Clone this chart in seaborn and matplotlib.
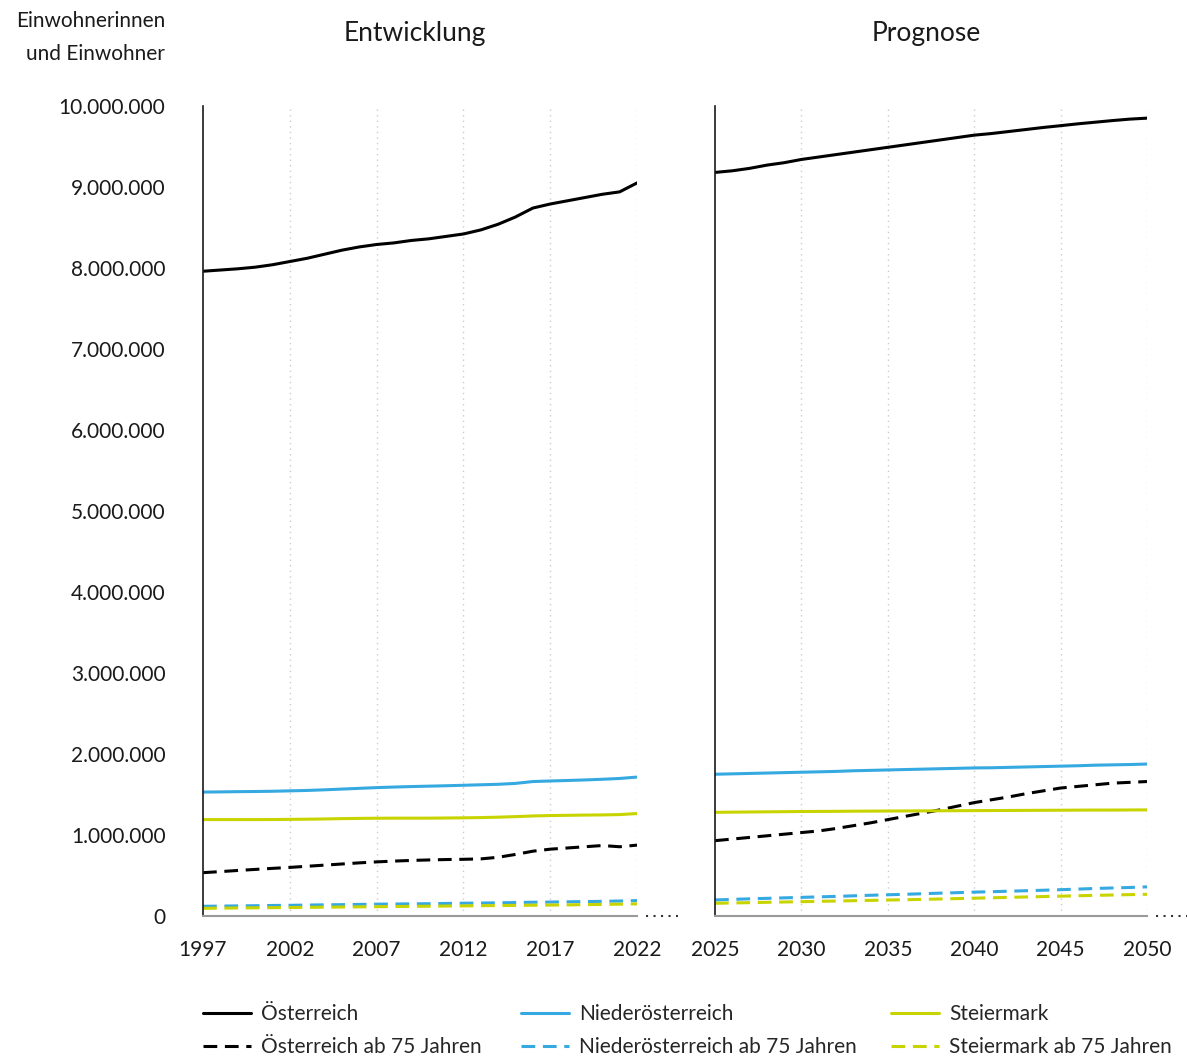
import numpy as np
import pandas as pd
import matplotlib
matplotlib.use("Agg")
import matplotlib.pyplot as plt
from matplotlib.lines import Line2D
import seaborn as sns

# Werte in Mio. Einwohner
jahre_hist = list(range(1997, 2023))
jahre_prog = list(range(2025, 2051))

oe_hist = [7.960, 7.975, 7.990, 8.010, 8.040, 8.080, 8.120, 8.170, 8.220, 8.260, 8.290, 8.310, 8.340,
           8.360, 8.390, 8.420, 8.470, 8.540, 8.630, 8.740, 8.790, 8.830, 8.870, 8.910, 8.940, 9.050]
noe_hist = [1.530, 1.532, 1.535, 1.537, 1.540, 1.545, 1.550, 1.558, 1.567, 1.576, 1.585, 1.592, 1.598,
            1.603, 1.608, 1.614, 1.620, 1.626, 1.637, 1.660, 1.667, 1.673, 1.680, 1.688, 1.698, 1.715]
stmk_hist = [1.190, 1.190, 1.190, 1.190, 1.191, 1.193, 1.195, 1.198, 1.202, 1.205, 1.207, 1.208, 1.208,
             1.208, 1.210, 1.212, 1.215, 1.220, 1.227, 1.235, 1.240, 1.243, 1.246, 1.248, 1.252, 1.265]
oe75_hist = [0.535, 0.548, 0.562, 0.575, 0.588, 0.600, 0.614, 0.628, 0.642, 0.656, 0.668, 0.678, 0.686,
             0.692, 0.697, 0.700, 0.705, 0.725, 0.760, 0.800, 0.825, 0.840, 0.855, 0.870, 0.855, 0.875]
noe75_hist = [0.120, 0.122, 0.125, 0.127, 0.130, 0.132, 0.135, 0.138, 0.140, 0.143, 0.146, 0.148, 0.150,
              0.152, 0.155, 0.158, 0.160, 0.163, 0.166, 0.170, 0.172, 0.175, 0.178, 0.181, 0.185, 0.190]
stmk75_hist = [0.095, 0.097, 0.099, 0.101, 0.103, 0.105, 0.107, 0.109, 0.111, 0.113, 0.115, 0.117, 0.119,
               0.121, 0.123, 0.125, 0.127, 0.129, 0.131, 0.133, 0.135, 0.137, 0.140, 0.143, 0.146, 0.150]

oe_prog = [9.180, 9.200, 9.230, 9.270, 9.300, 9.340, 9.370, 9.400, 9.430, 9.460, 9.490, 9.520, 9.550,
           9.580, 9.610, 9.640, 9.660, 9.685, 9.710, 9.735, 9.757, 9.780, 9.800, 9.820, 9.838, 9.850]
noe_prog = [1.750, 1.755, 1.760, 1.765, 1.770, 1.775, 1.780, 1.785, 1.793, 1.798, 1.803, 1.808, 1.813,
            1.818, 1.823, 1.828, 1.830, 1.835, 1.840, 1.845, 1.850, 1.855, 1.862, 1.866, 1.870, 1.876]
stmk_prog = [1.280, 1.282, 1.284, 1.286, 1.288, 1.290, 1.291, 1.292, 1.294, 1.295, 1.296, 1.297, 1.298,
             1.299, 1.300, 1.301, 1.302, 1.303, 1.304, 1.305, 1.306, 1.307, 1.308, 1.308, 1.309, 1.310]
oe75_prog = [0.930, 0.950, 0.970, 0.990, 1.010, 1.030, 1.050, 1.080, 1.115, 1.150, 1.190, 1.230, 1.270,
             1.310, 1.355, 1.400, 1.435, 1.470, 1.510, 1.545, 1.580, 1.600, 1.620, 1.640, 1.650, 1.660]
noe75_prog = [0.198, 0.205, 0.212, 0.218, 0.224, 0.230, 0.236, 0.242, 0.249, 0.256, 0.262, 0.268, 0.275,
              0.282, 0.288, 0.295, 0.300, 0.306, 0.312, 0.318, 0.325, 0.332, 0.340, 0.346, 0.352, 0.360]
stmk75_prog = [0.157, 0.161, 0.165, 0.169, 0.173, 0.177, 0.181, 0.185, 0.189, 0.193, 0.197, 0.201, 0.205,
               0.210, 0.215, 0.220, 0.225, 0.230, 0.235, 0.240, 0.245, 0.250, 0.255, 0.259, 0.264, 0.268]

namen = ["Österreich", "Österreich ab 75 Jahren",
         "Niederösterreich", "Niederösterreich ab 75 Jahren",
         "Steiermark", "Steiermark ab 75 Jahren"]
hist = [oe_hist, oe75_hist, noe_hist, noe75_hist, stmk_hist, stmk75_hist]
prog = [oe_prog, oe75_prog, noe_prog, noe75_prog, stmk_prog, stmk75_prog]

farben = {"Österreich": "#000000", "Niederösterreich": "#36a9e1", "Steiermark": "#c8d400"}
DASH = (0, (4.5, 2.5))
FS = 15

sns.set_style("white")
plt.rcParams["font.family"] = ["Lato", "DejaVu Sans"]
plt.rcParams["font.size"] = FS

fig = plt.figure(figsize=(11.87, 10.57), dpi=100)
W, H = 1187, 1057
ax1 = fig.add_axes([203 / W, (H - 916) / H, 434 / W, 810 / H])
ax2 = fig.add_axes([715 / W, (H - 916) / H, 432 / W, 810 / H])


def farbe(name):
    return farben[name.replace(" ab 75 Jahren", "")]


for ax, jahre, daten, titel in [(ax1, jahre_hist, hist, "Entwicklung"),
                                (ax2, jahre_prog, prog, "Prognose")]:
    for name, werte in zip(namen, daten):
        df = pd.DataFrame({"Jahr": jahre, "Einwohner": np.array(werte) * 1e6})
        ls = DASH if "ab 75" in name else "-"
        sns.lineplot(data=df, x="Jahr", y="Einwohner", ax=ax, color=farbe(name),
                     linestyle=ls, linewidth=2.2, legend=False)

    ax.set_xlim(jahre[0], jahre[-1])
    ax.set_ylim(0, 10_000_000)
    xt = jahre[::5]
    ax.set_xticks(xt)
    ax.set_xticklabels([str(j) for j in xt], fontsize=FS, color="#1a1a1a")
    ax.set_yticks(np.arange(0, 10_000_001, 1_000_000))
    for x in xt[1:]:
        ax.axvline(x, color="#cccccc", linestyle=(0, (1, 3)), linewidth=1, zorder=0)
    ax.set_xlabel("")
    ax.set_ylabel("")
    ax.set_title(titel, fontsize=19, pad=47, color="#1a1a1a", x=0.488)
    for s in ["top", "right"]:
        ax.spines[s].set_visible(False)
    ax.spines["left"].set_color("#1a1a1a")
    ax.spines["left"].set_linewidth(1.2)
    ax.spines["bottom"].set_color("#9a9a9a")
    ax.spines["bottom"].set_linewidth(1.5)
    ax.tick_params(axis="x", direction="out", length=10, width=1.3, color="#1a1a1a", pad=7)
    ax.tick_params(axis="y", direction="out", length=7, width=1.3, color="#555555")
    ax.yaxis.get_major_ticks()[0].tick1line.set_color("#9a9a9a")
    # gepunktete Fortsetzung der Achse
    ax.plot([1.02, 1.095], [0, 0], transform=ax.transAxes, color="#333333",
            linestyle=(0, (1, 2.6)), linewidth=1.5, clip_on=False)

ax1.set_yticklabels([f"{v:,.0f}".replace(",", ".") for v in ax1.get_yticks()],
                    fontsize=FS, color="#1a1a1a")
ax1.tick_params(axis="y", pad=20)
ax2.set_yticklabels([])
ax2.tick_params(axis="y", color="#888888")

fig.text(165 / W, 1 - 11 / H, "Einwohnerinnen\nund Einwohner", ha="right", va="top",
         fontsize=FS, linespacing=1.8, color="#1a1a1a", transform=fig.transFigure)

# Legende in drei Spalten
for i, xpos in enumerate([203, 521, 891]):
    handles = []
    for name in namen[2 * i:2 * i + 2]:
        ls = DASH if "ab 75" in name else "-"
        handles.append(Line2D([], [], color=farbe(name), linestyle=ls, linewidth=2.2))
    fig.legend(handles, namen[2 * i:2 * i + 2], loc="upper left",
               bbox_to_anchor=(xpos / W, 1 - 1004 / H), frameon=False, fontsize=FS,
               handlelength=2.3, handletextpad=0.5, labelspacing=0.62, borderaxespad=0,
               borderpad=0)

fig.savefig("out.png", dpi=100)
